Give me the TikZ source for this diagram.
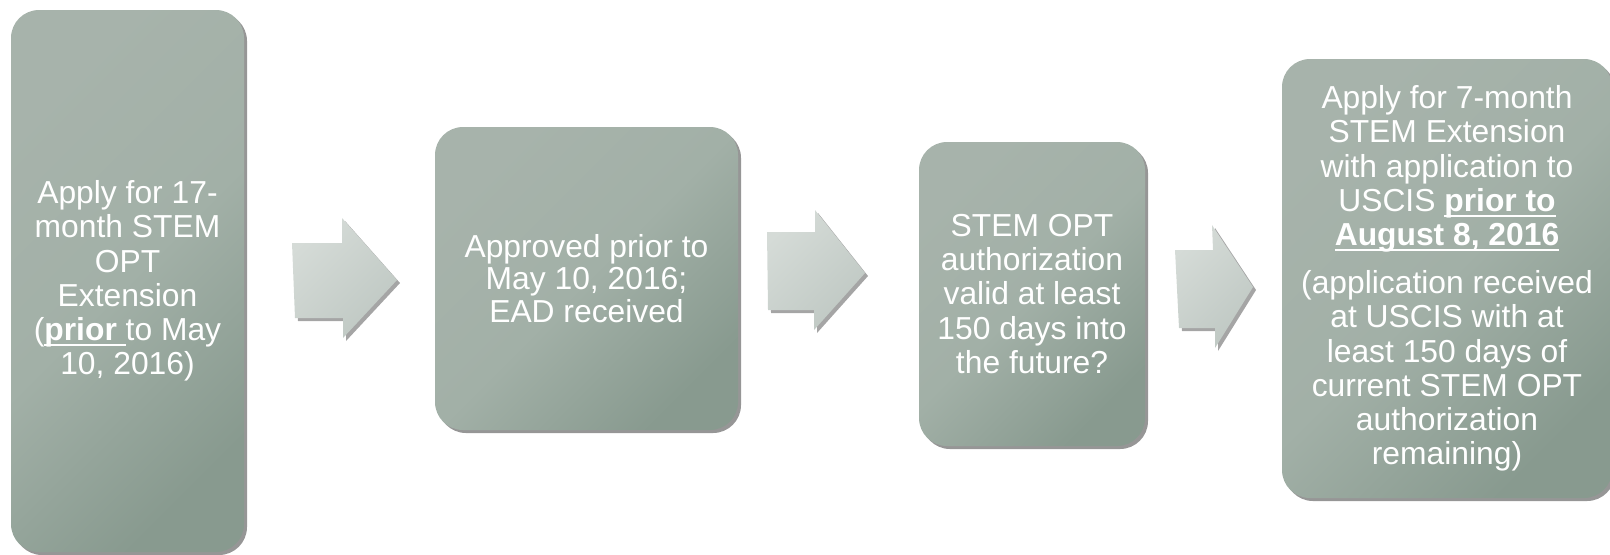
\documentclass[tikz,border=0pt]{standalone}
\usepackage{fontspec}
\setmainfont{Liberation Sans}
\usetikzlibrary{shadows}
\definecolor{boxlight}{HTML}{A7B3AB}
\definecolor{boxmid}{HTML}{A2B0A7}
\definecolor{boxdark}{HTML}{889A8F}
\definecolor{arrowlight}{HTML}{D5DBD7}
\definecolor{arrowdark}{HTML}{BFC8C3}
\newsavebox{\ulbox}
\newcommand{\uln}[1]{\sbox{\ulbox}{#1}\rlap{\rule[-2.8pt]{\wd\ulbox}{1pt}}\usebox{\ulbox}}

\begin{document}
\begin{tikzpicture}[
    x=0.5pt, y=-0.5pt,
    every node/.style={font=\fontsize{15.9}{17.1}\selectfont},
    stepbox/.style={rectangle, rounded corners=14pt, inner sep=0pt,
        top color=boxlight, bottom color=boxdark, middle color=boxmid, shading angle=45,
        text=white, align=center,
        drop shadow={shadow xshift=1.5pt, shadow yshift=-1.5pt, opacity=0.55, fill=black!75}},
    blockarrow/.style={top color=arrowlight, bottom color=arrowdark, shading angle=45,
        drop shadow={shadow xshift=1.5pt, shadow yshift=-1.5pt, opacity=0.5, fill=black!70}}
]
    \useasboundingbox (0,0) rectangle (1610,554);

    % === STEP BOXES ===
    \node[stepbox, minimum width=116.5pt, minimum height=271pt] (apply17) at (127.5,281)
        {Apply for 17-\\month STEM\\OPT\\Extension\\(\uln{\textbf{prior}\ }to May\\10, 2016)};

    \node[stepbox, minimum width=151.5pt, minimum height=151.5pt,
          font=\fontsize{15.9}{16.2}\selectfont] (approved) at (586.5,278.5)
        {Approved prior to\\May 10, 2016;\\EAD received};

    \node[stepbox, minimum width=113pt, minimum height=152pt] (valid) at (1032,294)
        {STEM OPT\\authorization\\valid at least\\150 days into\\the future?};

    \node[stepbox, minimum width=165pt, minimum height=219.5pt] (apply7) at (1447,278.5)
        {Apply for 7-month\\STEM Extension\\with application to\\USCIS \uln{\textbf{prior to}}\\\uln{\textbf{August 8, 2016}}\\[7pt]
         (application received\\at USCIS with at\\least 150 days of\\current STEM OPT\\authorization\\remaining)};

    % === BLOCK ARROWS BETWEEN STEPS ===
    \path[blockarrow] (292,243) -- (342,243) -- (342,218) -- (397,280) -- (343,338) -- (343,318) -- (295,318) -- cycle;
    \path[blockarrow] (767,232) -- (815,232) -- (815,210) -- (865,273) -- (814,330) -- (814,310) -- (768,310) -- cycle;
    \path[blockarrow] (1175,250) -- (1213,250) -- (1212,225) -- (1253,287) -- (1215,348) -- (1215,328) -- (1179,328) -- cycle;
\end{tikzpicture}
\end{document}
